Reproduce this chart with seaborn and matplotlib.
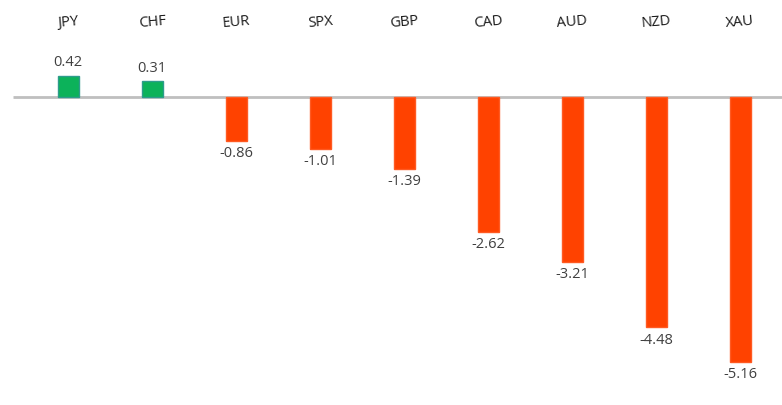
import matplotlib
matplotlib.use("Agg")
import matplotlib.pyplot as plt
import pandas as pd
import seaborn as sns

# ── Data ───────────────────────────────────────────────────────────────
categories = ["JPY", "CHF", "EUR", "SPX", "GBP", "CAD", "AUD", "NZD", "XAU"]
values = [0.42, 0.31, -0.86, -1.01, -1.39, -2.62, -3.21, -4.48, -5.16]

GREEN = "#0CB25A"
GREEN_EDGE = "#2E9C8C"
RED = "#FF4200"
RED_EDGE = "#FF5A22"
TEXT = "#404040"

sns.set_theme(style="white")
plt.rcParams["font.family"] = ["Open Sans", "DejaVu Sans"]

df = pd.DataFrame({"ccy": categories, "chg": values})
df["sign"] = ["pos" if v >= 0 else "neg" for v in values]

fig = plt.figure(figsize=(7.82, 4.05), dpi=100)
ax = fig.add_axes([0, 0, 1, 1])

sns.barplot(
    data=df,
    x="ccy",
    y="chg",
    hue="sign",
    palette={"pos": GREEN, "neg": RED},
    saturation=1,
    dodge=False,
    width=0.25,
    legend=False,
    ax=ax,
)

for patch in ax.patches:
    h = patch.get_height()
    patch.set_edgecolor(GREEN_EDGE if h >= 0 else RED_EDGE)
    patch.set_linewidth(1.0)

# value labels
for patch in ax.patches:
    h = patch.get_height()
    if h == 0:
        continue
    xc = patch.get_x() + patch.get_width() / 2
    if h > 0:
        ax.text(xc, h + 0.1, f"{h:.2f}", ha="center", va="bottom",
                fontsize=10.5, color=TEXT)
    else:
        ax.text(xc, h - 0.1, f"{h:.2f}", ha="center", va="top",
                fontsize=10.5, color=TEXT)

# category labels along the top
for i, name in enumerate(categories):
    ax.text(i, 1.45, name, ha="center", va="center", fontsize=10.5,
            color="#1a1a1a", rotation=5)

# zero line
ax.hlines(0, -0.65, 8.6, color="#BFBFBF", linewidth=2, zorder=0)

ax.set_xlim(-0.81, 8.5)
ax.set_ylim(-5.99, 1.89)
ax.set_axis_off()

fig.savefig("out.png", dpi=100)
plt.close(fig)
